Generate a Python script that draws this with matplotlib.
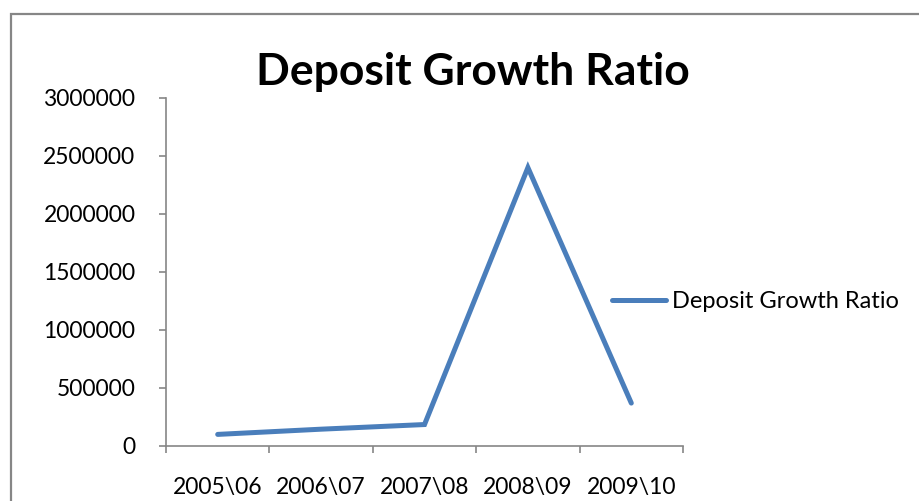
import matplotlib
matplotlib.use("Agg")
import matplotlib.pyplot as plt
from matplotlib.patches import Rectangle

categories = ["2005\\06", "2006\\07", "2007\\08", "2008\\09", "2009\\10"]
deposit_growth = [100000, 145000, 185000, 2400000, 370000]
yticks = [0, 500000, 1000000, 1500000, 2000000, 2500000, 3000000]
title = "Deposit Growth Ratio"
series_name = "Deposit Growth Ratio"

plt.rcParams['font.family'] = ['Lato', 'DejaVu Sans']

W, H = 920, 501
fig = plt.figure(figsize=(W / 100, H / 100), dpi=100)
fig.patch.set_facecolor('white')

# outer chart border (extends past right and bottom edges)
fig.patches.append(Rectangle((11 / W, -0.02), 1.05, (H - 14) / H + 0.02,
                             transform=fig.transFigure, fill=False,
                             edgecolor='#868686', linewidth=1.6))

ax = fig.add_axes([166 / W, (H - 446) / H, (683 - 166) / W, (446 - 98) / H])
x = list(range(len(categories)))
line, = ax.plot(x, deposit_growth, color='#4A7EBB', linewidth=3.6,
                solid_capstyle='round', solid_joinstyle='miter',
                label=series_name)

ax.set_xlim(-0.5, len(categories) - 0.5)
ax.set_ylim(0, 3000000)
ax.set_yticks(yticks)
ax.set_yticklabels([str(v) for v in yticks])
ax.set_xticks(x)
ax.set_xticklabels(categories)
ax.set_xticks([i - 0.5 for i in range(len(categories) + 1)], minor=True)

for s in ['top', 'right']:
    ax.spines[s].set_visible(False)
for s in ['left', 'bottom']:
    ax.spines[s].set_color('#868686')
    ax.spines[s].set_linewidth(1.2)

ax.tick_params(axis='x', which='major', length=0, pad=22, labelsize=16.5)
ax.tick_params(axis='x', which='minor', length=5, width=1.2, color='#868686', direction='out')
ax.tick_params(axis='y', which='major', length=5, width=1.2, color='#868686',
               direction='out', pad=17, labelsize=16.5)

fig.text(473 / W, (H - 85) / H, title, ha='center', va='baseline',
         fontsize=32, fontweight='bold')

fig.legend(handles=[line], loc='center left',
           bbox_to_anchor=(612 / W, (H - 302) / H), frameon=False,
           fontsize=17, handlelength=2.3, handletextpad=0.25,
           borderpad=0, borderaxespad=0)

fig.savefig('out.png', dpi=100)
